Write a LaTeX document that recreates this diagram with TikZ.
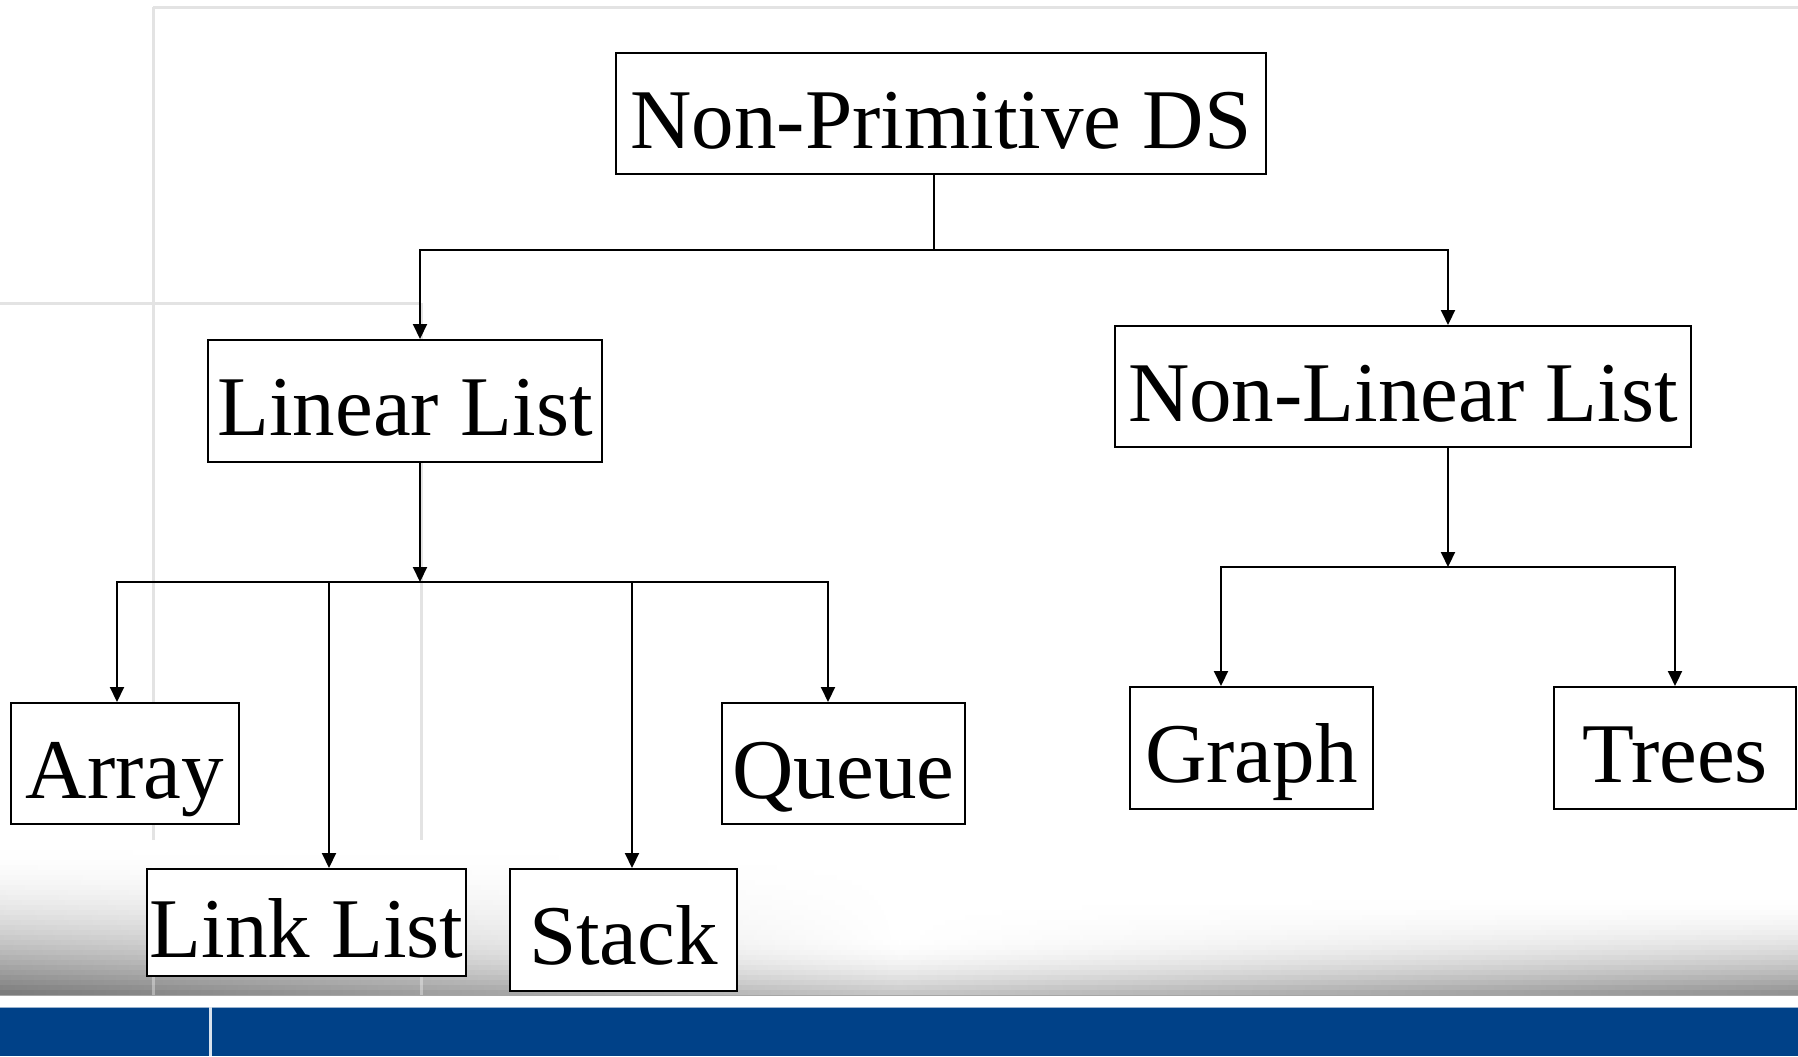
\documentclass[tikz,border=0pt]{standalone}
\usepackage{fontspec}
\setmainfont{Liberation Serif}
\usetikzlibrary{arrows.meta}
\definecolor{barblue}{RGB}{0,65,136}
\begin{document}
\begin{tikzpicture}[x=0.5pt,y=-0.5pt,
  bx/.style 2 args={draw=black, line width=1pt, fill=white, inner sep=0pt,
    minimum width=#1*0.5pt, minimum height=#2*0.5pt,
    text height=35pt, text depth=0.5pt, font=\fontsize{42.5}{50}\selectfont},
  conn/.style={line width=1pt, draw=black},
  hline/.style={conn, line cap=rect},
  arr/.style={conn, -{Triangle[width=7pt,length=7.5pt]}},
  bgline/.style={line width=1.5pt, draw=black!11}]
\useasboundingbox (0,0) rectangle (1798,1056);
\fill[white] (0,0) rectangle (1798,1056);
% background grid lines
\draw[bgline] (153,7) -- (153,995);
\draw[bgline] (153,7) -- (1798,7);
\draw[bgline] (0,303) -- (421,303);
\draw[bgline] (421,303) -- (421,995);
% bottom gradient band
\foreach \yy in {840,845,...,990}{
  \pgfmathsetmacro\tl{(\yy-840)/155}
  \pgfmathsetmacro\L{55*\tl*\tl}
  \pgfmathsetmacro\tm{max(0,(\yy-935)/60)}
  \pgfmathsetmacro\M{26*\tm*\tm}
  \pgfmathsetmacro\tr{max(0,(\yy-890)/105)}
  \pgfmathsetmacro\R{47*\tr*\tr}
  \shade[left color=black!\L, right color=black!\R, middle color=black!\M]
    (0,\yy) rectangle (1798,\yy+5.6);
}
\draw[line width=1.5pt, white, opacity=0.35] (153,840) -- (153,995);
\draw[line width=1.5pt, white, opacity=0.35] (421,840) -- (421,995);
\draw[line width=0.6pt, black!35] (0,995.5) -- (1798,995.5);
% blue bar
\fill[barblue] (0,1007) rectangle (1798,1056);
\draw[line width=0.6pt, barblue!40] (0,1007.5) -- (1798,1007.5);
\draw[line width=1.5pt, white!85!barblue] (210,1007) -- (210,1056);
% nodes
\node[bx={650}{121}] (np) at (941,113.5) {Non-Primitive DS};
\node[bx={394}{122}] (ll) at (405,401) {Linear List};
\node[bx={576}{121}] (nl) at (1403,386.5) {Non-Linear List};
\node[bx={228}{121}] (ar) at (125,763.5) {Array};
\node[bx={319}{107}] (lk) at (306.5,922.5) {Link List};
\node[bx={227}{122}] (st) at (623.5,930) {Stack};
\node[bx={243}{121}] (qu) at (843.5,763.5) {Queue};
\node[bx={243}{122}] (gr) at (1251.5,748) {Graph};
\node[bx={242}{122}] (tr) at (1675,748) {Trees};
% junction coordinates
\coordinate (a0) at (934,250);
\coordinate (aL) at (420,250);
\coordinate (aR) at (1448,250);
\coordinate (b0) at (420,582);
\coordinate (bA) at (117,582);
\coordinate (bK) at (329,582);
\coordinate (bS) at (632,582);
\coordinate (bQ) at (828,582);
\coordinate (c0) at (1448,567);
\coordinate (cG) at (1221,567);
\coordinate (cT) at (1675,567);
% connectors
\draw[conn] (np.south -| a0) -- (a0);
\draw[hline] (aL) -- (aR);
\draw[arr] (aL) -- (ll.north -| aL);
\draw[arr] (aR) -- (nl.north -| aR);
\draw[arr] (ll.south -| b0) -- (b0);
\draw[hline] (bA) -- (bQ);
\draw[arr] (bA) -- (ar.north -| bA);
\draw[arr] (bK) -- (lk.north -| bK);
\draw[arr] (bS) -- (st.north -| bS);
\draw[arr] (bQ) -- (qu.north -| bQ);
\draw[arr] (nl.south -| c0) -- (c0);
\draw[hline] (cG) -- (cT);
\draw[arr] (cG) -- (gr.north -| cG);
\draw[arr] (cT) -- (tr.north -| cT);
\end{tikzpicture}
\end{document}
